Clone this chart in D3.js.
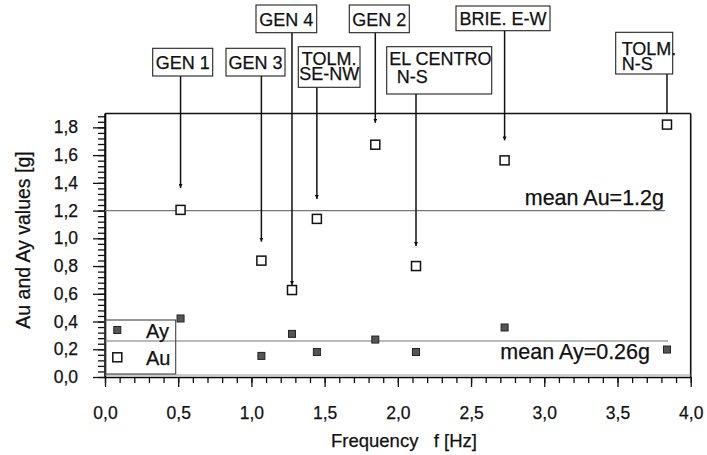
<!DOCTYPE html>
<html><head><meta charset="utf-8">
<script src="https://cdn.jsdelivr.net/npm/d3@7"></script>
<style>
body{margin:0;background:#fff}
svg{font-family:"Liberation Sans",Arial,Helvetica,sans-serif}
svg text{stroke:#111;stroke-width:0.25px}
</style></head>
<body><svg id="c" width="707" height="455"></svg>
<script>
// ---- data ----
const records   = ["GEN 1","GEN 3","GEN 4","TOLM. SE-NW","GEN 2","EL CENTRO N-S","BRIE. E-W","TOLM. N-S"];
const frequency = [0.516, 1.068, 1.277, 1.447, 1.846, 2.124, 2.729, 3.838];
const auValues  = [1.205, 0.839, 0.627, 1.140, 1.675, 0.800, 1.562, 1.820];
const ayValues  = [0.422, 0.152, 0.311, 0.180, 0.270, 0.180, 0.357, 0.198];
const meanAu = 1.2, meanAy = 0.26;
const xTicks = [0,0.5,1,1.5,2,2.5,3,3.5,4];
const yTicks = [0,0.2,0.4,0.6,0.8,1.0,1.2,1.4,1.6,1.8];

// ---- annotation layout (pixels) ----
const labelLayout = [
  {lines:["GEN 1"], box:[152.7,48.3,60,27.7], anchor:"middle", base:[21], gap:22},
  {lines:["GEN 3"], box:[226,48.3,59,27.7], anchor:"middle", base:[21], gap:19},
  {lines:["GEN 4"], box:[256,5,60.7,27.7], anchor:"middle", base:[21], gap:5},
  {lines:["TOLM.","SE-NW"], box:[298.3,46.7,61.7,40.6], anchor:"middle", base:[18,33.3], gap:20},
  {lines:["GEN 2"], box:[349.3,5,60,27.7], anchor:"middle", base:[21], gap:22},
  {lines:["EL CENTRO","N-S"], box:[386.7,46.7,105,47.3], anchor:"start", dx:[2.5,10], base:[18.3,36], gap:20},
  {lines:["BRIE. E-W"], box:[456,6,94,24.7], anchor:"middle", base:[18.5], gap:20},
  {lines:["TOLM.","N-S"], box:[615.7,32.3,57,41.7], anchor:"start", dx:[6,6], base:[22.7,37.7], gap:null}
];

const svg = d3.select("#c");
const x = d3.scaleLinear().domain([0,4]).range([105,690.7]);
const y = d3.scaleLinear().domain([0,1.9]).range([377,113.5]);
const fmt = d => d.toFixed(1).replace(".", ",");

// x axis
const gx = svg.append("g").attr("transform",`translate(0,${y(0)})`);
gx.call(d3.axisBottom(x).tickValues(d3.range(0,4.0001,0.1)).tickSize(6).tickFormat(""))
  .call(g=>g.select(".domain").remove());
gx.append("g").call(d3.axisBottom(x).tickValues(xTicks).tickSize(10).tickSizeOuter(0).tickPadding(20).tickFormat(fmt))
  .call(g=>g.selectAll("text").attr("font-size",17.5).attr("fill","#111").attr("font-family",null))
  .call(g=>g.select(".domain").attr("stroke-width",1.6));
gx.selectAll("line").attr("stroke","#111").attr("stroke-width",1.3);

// y axis
const gy = svg.append("g").attr("transform",`translate(${x(0)},0)`);
gy.call(d3.axisLeft(y).tickValues(d3.range(0,1.9001,0.04)).tickSize(7).tickFormat(""))
  .call(g=>g.select(".domain").remove());
gy.append("g").call(d3.axisLeft(y).tickValues(yTicks).tickSize(12).tickSizeOuter(0).tickPadding(15).tickFormat(fmt))
  .call(g=>g.selectAll("text").attr("font-size",17.5).attr("fill","#111").attr("font-family",null))
  .call(g=>g.select(".domain").attr("stroke-width",1.6));
gy.selectAll("line").attr("stroke","#111").attr("stroke-width",1.3);
svg.append("line").attr("x1",x(0)).attr("x2",x(0)).attr("y1",y(1.9)).attr("y2",y(0)).attr("stroke","#111").attr("stroke-width",1.6);

// frame
svg.append("line").attr("x1",x(0)).attr("x2",x(4)).attr("y1",y(1.9)).attr("y2",y(1.9)).attr("stroke","#111").attr("stroke-width",1.6);
svg.append("line").attr("x1",x(4)).attr("x2",x(4)).attr("y1",y(1.9)).attr("y2",y(0)).attr("stroke","#111").attr("stroke-width",1.6);
svg.append("line").attr("x1",x(0)).attr("x2",x(4)).attr("y1",y(0)-2).attr("y2",y(0)-2).attr("stroke","#999").attr("stroke-width",1.2);

// axis titles
svg.append("text").attr("x",404).attr("y",447).attr("text-anchor","middle").attr("font-size",18.5)
  .style("white-space","pre").attr("fill","#111").text("Frequency   f [Hz]");
svg.append("text").attr("transform",`translate(30,240) rotate(-90)`).attr("text-anchor","middle")
  .attr("font-size",19.5).attr("fill","#111").text("Au and Ay values [g]");

// mean lines
svg.append("line").attr("x1",x(0)).attr("x2",665).attr("y1",y(meanAu)).attr("y2",y(meanAu)).attr("stroke","#777").attr("stroke-width",1.1);
svg.append("line").attr("x1",x(0)).attr("x2",668).attr("y1",y(meanAy)).attr("y2",y(meanAy)).attr("stroke","#777").attr("stroke-width",1.1);
svg.append("text").attr("x",664).attr("y",y(meanAu)-6).attr("text-anchor","end").attr("font-size",21.5).attr("fill","#111").text("mean Au=1.2g");
svg.append("text").attr("x",650).attr("y",y(meanAy)+18.5).attr("text-anchor","end").attr("font-size",21.5).attr("fill","#111").text("mean Ay=0.26g");

// legend
const lg = svg.append("g");
lg.append("rect").attr("x",x(0)).attr("y",320).attr("width",70.7).attr("height",54).attr("fill","none").attr("stroke","#444").attr("stroke-width",1.1);
lg.append("rect").attr("x",117.3-3.5).attr("y",330-3.5).attr("width",7).attr("height",7).attr("fill","#555").attr("stroke","#222").attr("stroke-width",1);
lg.append("text").attr("x",146).attr("y",338).attr("font-size",20).attr("fill","#111").text("Ay");
lg.append("rect").attr("x",117.3-4.5).attr("y",357.3-4.5).attr("width",9).attr("height",9).attr("fill","#fff").attr("stroke","#111").attr("stroke-width",1.5);
lg.append("text").attr("x",146).attr("y",364.5).attr("font-size",20).attr("fill","#111").text("Au");

// arrow marker
svg.append("defs").append("marker").attr("id","ah").attr("viewBox","0 0 6 6").attr("refX",6).attr("refY",3)
  .attr("markerWidth",4).attr("markerHeight",4).attr("markerUnits","userSpaceOnUse").attr("orient","auto")
  .append("path").attr("d","M0,0L6,3L0,6Z").attr("fill","#111");

// annotations
labelLayout.forEach((L,i)=>{
  const [bx,by,bw,bh] = L.box;
  const px = x(frequency[i]);
  const yEnd = L.gap===null ? y(1.9) : y(auValues[i]) - L.gap;
  const ln = svg.append("line").attr("x1",px).attr("x2",px).attr("y1",by+bh).attr("y2",yEnd)
    .attr("stroke","#111").attr("stroke-width",1.5);
  if (L.gap!==null) ln.attr("marker-end","url(#ah)");
  svg.append("rect").attr("x",bx).attr("y",by).attr("width",bw).attr("height",bh)
    .attr("fill","#fff").attr("stroke","#222").attr("stroke-width",1.1);
  L.lines.forEach((t,j)=>{
    const tx = L.anchor==="middle" ? bx+bw/2 : bx+L.dx[j];
    svg.append("text").attr("x",tx).attr("y",by+L.base[j]).attr("text-anchor",L.anchor)
      .attr("font-size",18).attr("fill","#111").text(t);
  });
});

// points
svg.append("g").selectAll("rect").data(frequency).join("rect")
  .attr("x",(d,i)=>x(d)-3.5).attr("y",(d,i)=>y(ayValues[i])-3.5).attr("width",7).attr("height",7)
  .attr("fill","#555").attr("stroke","#222").attr("stroke-width",1);
svg.append("g").selectAll("rect").data(frequency).join("rect")
  .attr("x",(d,i)=>x(d)-4.5).attr("y",(d,i)=>y(auValues[i])-4.5).attr("width",9).attr("height",9)
  .attr("fill","#fff").attr("stroke","#111").attr("stroke-width",1.5);
</script></body></html>
